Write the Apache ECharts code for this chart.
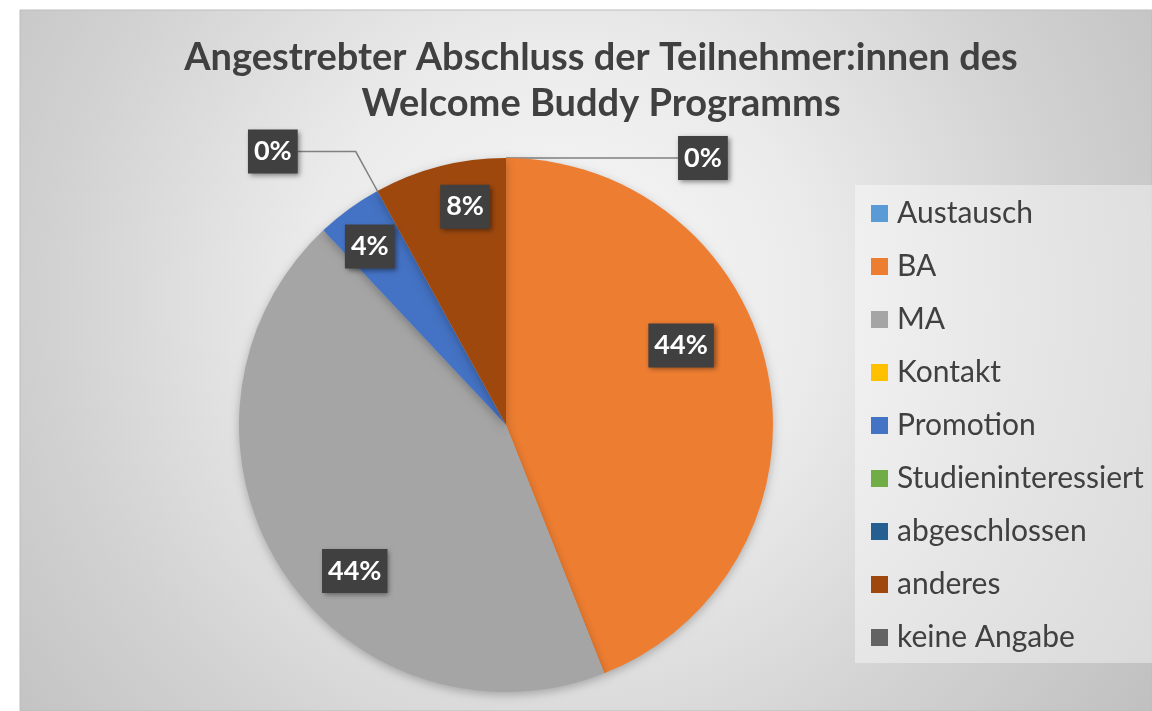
<!DOCTYPE html>
<html>
<head>
<meta charset="utf-8">
<script src="https://cdn.jsdelivr.net/npm/echarts@6/dist/echarts.min.js"></script>
<style>
  html, body { margin: 0; padding: 0; background: #fff; }
  #main { width: 1152px; height: 711px; }
</style>
</head>
<body>
<div id="main"></div>
<script>
// Kategorien und Werte (Anzahl Teilnehmer:innen)
var categories = ['Austausch', 'BA', 'MA', 'Kontakt', 'Promotion', 'Studieninteressiert', 'abgeschlossen', 'anderes', 'keine Angabe'];
var values = [0, 11, 11, 0, 1, 0, 0, 2, 0];
var colors = ['#5B9BD5', '#ED7D31', '#A5A5A5', '#FFC000', '#4472C4', '#70AD47', '#255E91', '#9E480E', '#636363'];
// welche 0%-Beschriftungen sichtbar sind
var zeroLabels = ['Austausch', 'abgeschlossen'];
// Verschiebung der inneren Beschriftungen (wie "beste Anpassung")
var labelShift = { 'BA': [41, -54], 'MA': [-36, 73], 'Promotion': [-56, -68], 'anderes': [-7, -86] };
// Führungslinien der 0%-Beschriftungen [length, length2]
var leader = { 'Austausch': [0, 172], 'abgeschlossen': [45, 58] };

var chart = echarts.init(document.getElementById('main'));

var pieData = categories.map(function (name, i) {
  var item = { name: name, value: values[i], itemStyle: { color: colors[i] } };
  if (values[i] === 0) {
    if (zeroLabels.indexOf(name) >= 0) {
      item.label = { position: 'outside' };
      item.labelLine = { show: true, length: leader[name][0], length2: leader[name][1] };
    } else {
      item.label = { show: false };
      item.labelLine = { show: false };
    }
  }
  return item;
});

var option = {
  backgroundColor: '#ffffff',
  color: colors,
  graphic: [{
    type: 'rect',
    z: -10,
    shape: { x: 20, y: 10, width: 1132, height: 701 },
    style: {
      fill: new echarts.graphic.RadialGradient(560, 300, 720, [
        { offset: 0, color: '#f8f8f8' },
        { offset: 0.35, color: '#ebebeb' },
        { offset: 0.7, color: '#d2d2d2' },
        { offset: 1, color: '#c0c0c0' }
      ], true),
      stroke: '#bdbdbd',
      lineWidth: 1
    }
  }, {
    type: 'rect',
    z: -5,
    shape: { x: 855, y: 185, width: 297, height: 478 },
    style: { fill: 'rgba(255,255,255,0.4)' }
  }],
  title: {
    text: 'Angestrebter Abschluss der Teilnehmer:innen des\nWelcome Buddy Programms',
    left: 596,
    top: 30,
    textAlign: 'center',
    textStyle: {
      fontFamily: 'Lato',
      fontWeight: 'bold',
      fontSize: 38,
      lineHeight: 46,
      color: '#404040'
    }
  },
  legend: {
    orient: 'vertical',
    left: 871,
    top: 198,
    padding: 0,
    itemWidth: 17,
    itemHeight: 17,
    itemGap: 22,
    icon: 'rect',
    data: categories,
    textStyle: {
      fontFamily: 'Lato',
      fontSize: 30,
      lineHeight: 31,
      color: '#404040',
      padding: [0, 0, 0, 4]
    }
  },
  series: [{
    type: 'pie',
    center: [506, 425],
    radius: [0, 267],
    startAngle: 89.99,
    clockwise: true,
    avoidLabelOverlap: false,
    data: pieData,
    itemStyle: {
      shadowBlur: 10,
      shadowColor: 'rgba(0,0,0,0.25)',
      shadowOffsetY: 3
    },
    label: {
      show: true,
      position: 'inside',
      formatter: function (p) { return Math.round(p.percent) + '%'; },
      fontFamily: 'Lato',
      fontWeight: 'bold',
      fontSize: 27,
      color: '#ffffff',
      backgroundColor: '#404040',
      padding: [9, 6, 8, 6],
      shadowColor: 'rgba(0,0,0,0.45)',
      shadowBlur: 5,
      shadowOffsetX: 2,
      shadowOffsetY: 2,
      distanceToLabelLine: 0
    },
    labelLine: {
      lineStyle: { color: '#808080', width: 1.5 }
    },
    labelLayout: function (params) {
      var s = labelShift[categories[params.dataIndex]];
      if (s) return { dx: s[0], dy: s[1] };
      return {};
    },
    emphasis: { disabled: true }
  }]
};

chart.setOption(option);
</script>
</body>
</html>
